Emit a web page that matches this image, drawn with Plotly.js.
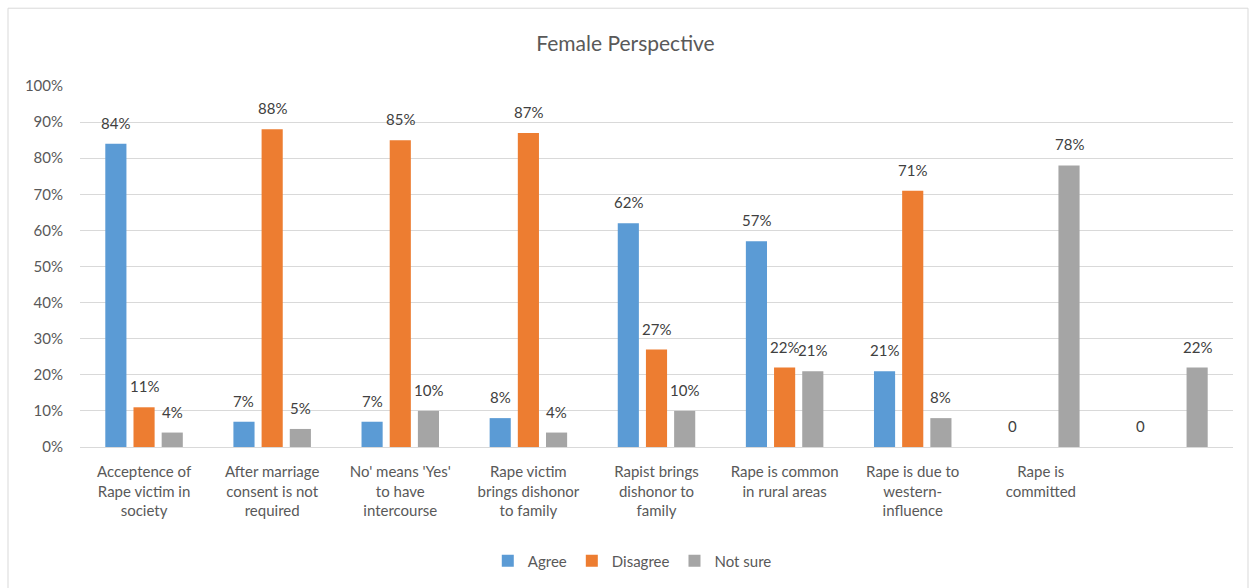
<!DOCTYPE html>
<html><head><meta charset="utf-8">
<script src="https://cdn.plot.ly/plotly-3.0.1.min.js"></script>
<style>html,body{margin:0;padding:0;background:#fff;}#chart{width:1251px;height:588px;}</style>
</head><body><div id="chart"></div>
<script>
const categories = [
  "Acceptence of<br>Rape victim in<br>society",
  "After marriage<br>consent is not<br>required",
  "No' means 'Yes'<br>to have<br>intercourse",
  "Rape victim<br>brings dishonor<br>to family",
  "Rapist brings<br>dishonor to<br>family",
  "Rape is common<br>in rural areas",
  "Rape is due to<br>western-<br>influence",
  "Rape is<br>committed",
  " "
];
const agree    = [84, 7, 7, 8, 62, 57, 21, 0, 0];
const disagree = [11, 88, 85, 87, 27, 22, 71, null, null];
const notSure  = [4, 5, 10, 4, 10, 21, 8, 78, 22];
const seriesNames = ["Agree", "Disagree", "Not sure"];
const colors = ["#5b9bd5", "#ed7d31", "#a5a5a5"];

const W = 1251, H = 588, ML = 80, MR = 18, MT = 86, MB = 140;
const bargap = 0.34, bargroupgap = 0.25;
const xs = categories.map((c, i) => i);
const slot = (W - ML - MR) / categories.length * (1 - bargap) / 3;
const font = "Lato, 'Open Sans', sans-serif";
const series = [agree, disagree, notSure];

const traces = series.map((arr, k) => ({
  type: "bar", x: xs, y: arr, name: seriesNames[k],
  marker: {color: colors[k]}, hoverinfo: "skip"
}));

const annotations = [];
series.forEach((arr, k) => arr.forEach((v, i) => {
  if (v === null) return;
  annotations.push({
    x: xs[i], y: v, xref: "x", yref: "y", xshift: (k - 1) * slot, yshift: 21,
    text: v === 0 ? "0" : v + "%", showarrow: false, xanchor: "center", yanchor: "middle",
    font: {family: font, size: 15, color: "#404040"}
  });
}));

const layout = {
  width: W, height: H,
  margin: {l: ML, r: MR, t: MT, b: MB},
  paper_bgcolor: "#fff", plot_bgcolor: "#fff",
  title: {text: "Female Perspective", x: 0.5, xanchor: "center", y: 0.925, yanchor: "middle",
          font: {family: font, size: 21, color: "#595959"}},
  barmode: "group", bargap: bargap, bargroupgap: bargroupgap,
  showlegend: true,
  legend: {orientation: "h", x: 0.479, xanchor: "center", y: -0.312, yanchor: "middle",
           font: {family: font, size: 15, color: "#595959"}, traceorder: "normal"},
  xaxis: {tickvals: xs, ticktext: categories, range: [-0.5, 8.5], ticklabelstandoff: 11,
          tickfont: {family: font, size: 15, color: "#595959"},
          showgrid: false, showline: true, linecolor: "#d9d9d9", ticks: "", zeroline: false},
  yaxis: {range: [0, 100], dtick: 10, ticksuffix: "%", ticklabelstandoff: 16,
          tickfont: {family: font, size: 15, color: "#595959"},
          gridcolor: "#d9d9d9", zeroline: false, showline: false, ticks: ""},
  annotations: annotations,
  shapes: [{type: "rect", xref: "paper", yref: "paper",
            x0: (8-ML)/(W-ML-MR), x1: (1248-ML)/(W-ML-MR), y0: (H-MB-590)/(H-MT-MB), y1: (H-MB-8)/(H-MT-MB),
            line: {color: "#d9d9d9", width: 1}, fillcolor: "rgba(0,0,0,0)", layer: "below"}]
};
Plotly.newPlot("chart", traces, layout, {staticPlot: true});
</script></body></html>
